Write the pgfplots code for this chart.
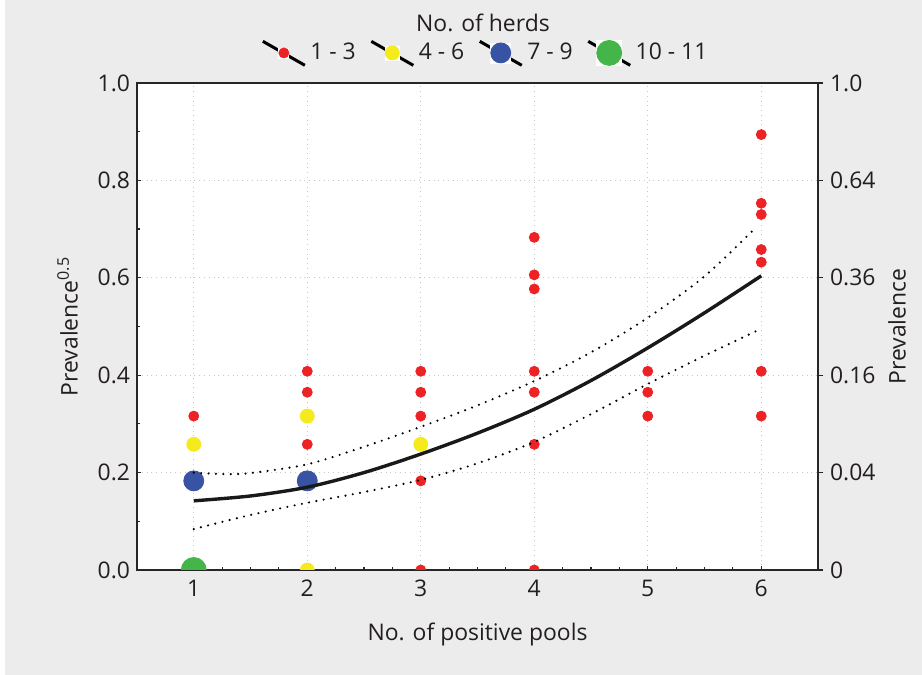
\documentclass[border=0pt]{standalone}
\usepackage{fontspec}
\setmainfont{Open Sans}
\usepackage{pgfplots}
\pgfplotsset{compat=1.18}
\usetikzlibrary{backgrounds}
\definecolor{bggray}{HTML}{ECECEC}
\definecolor{txt}{HTML}{231F20}
\definecolor{cred}{HTML}{ED2224}
\definecolor{cyellow}{HTML}{F4EA1C}
\definecolor{cblue}{HTML}{3953A4}
\definecolor{cgreen}{HTML}{44B649}
\definecolor{gridc}{HTML}{C8C8C8}
\newcommand{\lf}{\fontsize{11.5}{13.5}\selectfont}
\pgfplotsset{
  herdleg/.style={legend image code/.code={
    \draw[black,line width=1.5bp] (0bp,5.8bp) -- (21bp,-6.2bp);
    \fill[white] (10.5bp-#1,-#1) rectangle (10.5bp+#1,#1);
    \draw[##1] plot coordinates {(10.5bp,0bp)};
  }}
}
\begin{document}
\begin{tikzpicture}
\begin{axis}[
  scale only axis, width=340.5bp, height=243.5bp,
  xmin=0.5, xmax=6.5, ymin=0, ymax=1,
  axis background/.style={fill=white},
  axis line style={line width=0.9bp, color=black!85},
  xtick={1,2,3,4,5,6}, minor x tick num=3,
  ytick={0,0.2,0.4,0.6,0.8,1}, minor y tick num=1,
  xtick pos=bottom, ytick pos=left, tick align=inside,
  major tick length=2bp, minor tick length=1.5bp,
  tick style={line width=0.6bp, color=black!85},
  yticklabel style={/pgf/number format/.cd, fixed, fixed zerofill, precision=1},
  /pgf/number format/assume math mode=true,
  ticklabel style={color=txt, font=\lf},
  xticklabel style={yshift=-1.5bp},
  grid=major,
  major grid style={dotted, line width=0.5bp, color=gridc},
  xlabel={No. of positive pools},
  ylabel={Prevalence\textsuperscript{0.5}},
  label style={color=txt, font=\lf},
  xlabel style={at={(axis description cs:0.5,-0.133)}, anchor=center},
  ylabel style={at={(axis description cs:-0.102,0.5)}, anchor=center, rotate=0},
  legend columns=4,
  legend style={at={(0.513,1.0616)}, anchor=center, draw=none, fill=none,
    font=\lf, text=txt,
    /tikz/every even column/.append style={column sep=5bp}},
  clip=true, clip marker paths=true,
]
\coordinate (BL) at (rel axis cs:-0.2012,-0.2156);
\coordinate (TR) at (rel axis cs:1.1527,1.1704);
\coordinate (TT) at (rel axis cs:0.508,1.123);
\addplot[only marks, mark=*, mark size=2.5bp, color=cred, herdleg=2.5bp] coordinates {
  (1,0.316)
  (2,0.408)(2,0.365)(2,0.258)
  (3,0.408)(3,0.365)(3,0.316)(3,0.183)(3,0)
  (4,0.683)(4,0.606)(4,0.577)(4,0.408)(4,0.365)(4,0.258)(4,0)
  (5,0.408)(5,0.365)(5,0.316)
  (6,0.894)(6,0.753)(6,0.730)(6,0.658)(6,0.632)(6,0.408)(6,0.316)
};
\addlegendentry{1 - 3}
\addplot[only marks, mark=*, mark size=3.5bp, color=cyellow, herdleg=3.5bp] coordinates {
  (1,0.258)(2,0.316)(2,0)(3,0.258)
};
\addlegendentry{4 - 6}
\addplot[only marks, mark=*, mark size=5bp, color=cblue, herdleg=5bp] coordinates {
  (1,0.183)(2,0.183)
};
\addlegendentry{7 - 9}
\addplot[only marks, mark=*, mark size=6.25bp, color=cgreen, herdleg=6.25bp] coordinates {
  (1,0)
};
\addlegendentry{10 - 11}
% confidence limits
\addplot[forget plot, smooth, black, line width=1.2bp, line cap=round, dash pattern=on 0bp off 3.7bp] coordinates {
  (1,0.200)(1.25,0.197)(1.5,0.199)(2,0.217)(2.5,0.253)(3,0.294)(3.5,0.338)(4,0.388)(4.5,0.447)(5,0.518)(5.5,0.603)(5.96,0.705)
};
\addplot[forget plot, smooth, black, line width=1.2bp, line cap=round, dash pattern=on 0bp off 3.7bp] coordinates {
  (1,0.084)(1.5,0.113)(2,0.138)(2.5,0.160)(3,0.185)(3.5,0.219)(4,0.263)(4.5,0.320)(5,0.382)(5.5,0.440)(5.96,0.491)
};
% fitted line
\addplot[forget plot, smooth, black!90, line width=1.7bp] coordinates {
  (1,0.142)(1.5,0.152)(2,0.170)(2.5,0.200)(3,0.238)(3.5,0.281)(4,0.330)(4.5,0.389)(5,0.456)(5.5,0.528)(6,0.604)
};
\end{axis}
\begin{axis}[
  scale only axis, width=340.5bp, height=243.5bp,
  xmin=0.5, xmax=6.5, ymin=0, ymax=1,
  axis x line=none, axis y line*=right,
  axis line style={line width=0.9bp, color=black!85, -},
  ytick={0,0.2,0.4,0.6,0.8,1},
  yticklabels={0,0.04,0.16,0.36,0.64,1.0},
  tick align=outside, major tick length=2.5bp,
  tick style={line width=0.6bp, color=black!85},
  ticklabel style={color=txt, font=\lf},
  ylabel={Prevalence},
  label style={color=txt, font=\lf},
  ylabel style={at={(axis description cs:1.116,0.5)}, anchor=center, rotate=0},
]
\addplot[draw=none, forget plot] coordinates {(1,0.5)};
\end{axis}
\node[color=txt, font=\lf] at (TT) {No. of herds};
\begin{pgfonlayer}{background}
  \fill[white] (BL) rectangle (TR);
  \fill[bggray] ([xshift=2.5bp]BL) rectangle (TR);
\end{pgfonlayer}
\pgfresetboundingbox
\path (BL) rectangle (TR);
\end{tikzpicture}
\end{document}
